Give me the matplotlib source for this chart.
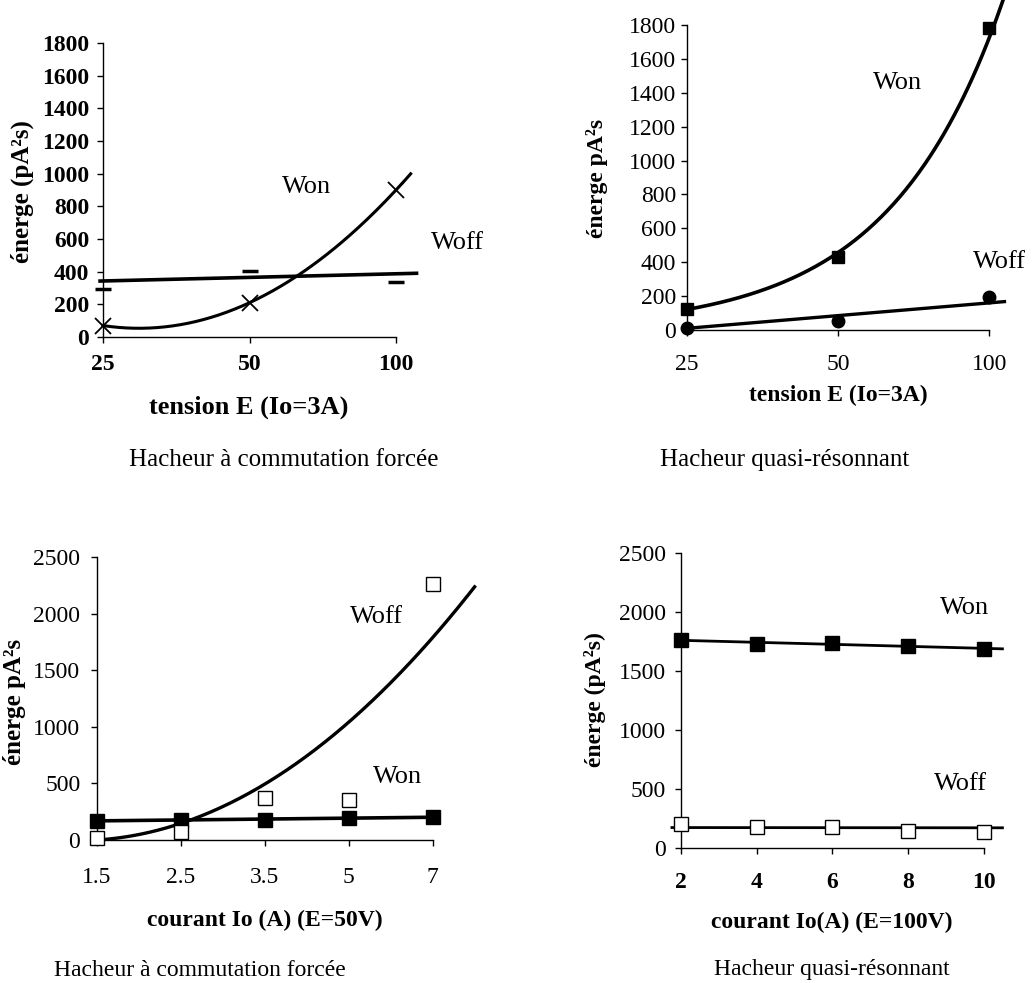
"""
Energies de commutation Won / Woff : hacheur a commutation forcee vs quasi-resonnant
"""

import numpy as np
import matplotlib
matplotlib.use('Agg')
from matplotlib import pyplot as plt

W, H = 1036, 983

# --- donnees ---
# haut gauche : commutation forcee, E variable (Io=3A)
tension_labels = ['25', '50', '100']
tl_won = [70, 210, 900]
tl_woff = [296, 404, 337]
tl_woff_trend = [343, 365, 387]

# haut droite : quasi-resonnant, E variable (Io=3A)
tr_won = [125, 430, 1780]
tr_woff = [10, 55, 195]
tr_woff_trend = [10, 85, 160]

# bas gauche : commutation forcee, Io variable (E=50V)
courant_labels_cf = ['1.5', '2.5', '3.5', '5', '7']
bl_won = [170, 180, 180, 190, 205]
bl_woff = [15, 75, 375, 350, 2260]
bl_woff_trend = [0, 147, 494, 1041, 1788]

# bas droite : quasi-resonnant, Io variable (E=100V)
courant_labels_qr = ['2', '4', '6', '8', '10']
br_won = [1765, 1730, 1735, 1710, 1690]
br_woff = [205, 180, 180, 145, 135]
br_woff_trend = [173, 173, 172, 172, 171]

plt.rcParams['font.family'] = ['Liberation Serif', 'DejaVu Serif']
plt.rcParams['mathtext.default'] = 'regular'


def fx(x):
    return x / W


def fy(y):
    return 1 - y / H


def make_axes(fig, left, right, bottom, top):
    ax = fig.add_axes([fx(left), fy(bottom), fx(right) - fx(left), fy(top) - fy(bottom)])
    ax.patch.set_alpha(0)
    ax.spines['top'].set_visible(False)
    ax.spines['right'].set_visible(False)
    for s in ['left', 'bottom']:
        ax.spines[s].set_linewidth(1.0)
    return ax


def style_ticks(ax, labels, ymax, ystep, xbold, ybold, xpad, ypad, size=17):
    n = len(labels)
    ax.set_xticks(range(n))
    ax.set_xticklabels(labels, fontweight='bold' if xbold else 'normal', fontsize=size)
    ax.set_yticks(np.arange(0, ymax + 1, ystep))
    ax.set_yticklabels([str(v) for v in np.arange(0, ymax + 1, ystep)],
                       fontweight='bold' if ybold else 'normal', fontsize=size)
    ax.tick_params(axis='x', direction='out', length=4, width=1, pad=xpad)
    ax.tick_params(axis='y', direction='out', length=4, width=1, pad=ypad)
    ax.spines['bottom'].set_bounds(0, n - 1)
    ax.spines['left'].set_bounds(0, ymax)


def trend(ax, anchors, x0, x1, deg, lw=2.2):
    xs = np.arange(len(anchors))
    coef = np.polyfit(xs, anchors, deg)
    xx = np.linspace(x0, x1, 200)
    ax.plot(xx, np.polyval(coef, xx), color='black', lw=lw, clip_on=False, zorder=2)


fig = plt.figure(figsize=(W / 100, H / 100), dpi=100)
fig.patch.set_facecolor('white')

# ---------------- haut gauche ----------------
ax = make_axes(fig, 103, 418, 337, 43)
ax.set_xlim(0, 2.15)
ax.set_ylim(0, 1800)
style_ticks(ax, tension_labels, 1800, 200, True, True, xpad=8.5, ypad=6)
idx = np.arange(len(tl_won))
trend(ax, tl_won, 0, 2.1, 2, lw=2.2)
trend(ax, tl_woff_trend, -0.02, 2.14, 1, lw=2.6)
ax.plot(idx, tl_won, 'x', color='black', ms=11, mew=1.3, clip_on=False, zorder=3)
ax.plot(idx, tl_woff, '_', color='black', ms=12, mew=2.5, clip_on=False, zorder=3)
ax.text(1.39, 918, 'Won', fontsize=19, ha='center', va='center')
ax.text(2.42, 575, 'Woff', fontsize=19, ha='center', va='center', clip_on=False)
fig.text(fx(249), fy(407), 'tension E (Io=3A)', fontsize=19, fontweight='bold',
         ha='center', va='center')
fig.text(fx(22), fy(192), 'énerge (pA²s)', fontsize=18, fontweight='bold',
         ha='center', va='center', rotation=90)
fig.text(fx(284), fy(460), 'Hacheur à commutation forcée', fontsize=18,
         ha='center', va='center')

# ---------------- haut droite ----------------
ax = make_axes(fig, 687, 1012, 330, 25)
ax.set_xlim(0, 2.15)
ax.set_ylim(0, 1800)
style_ticks(ax, tension_labels, 1800, 200, False, False, xpad=13.5, ypad=4)
idx = np.arange(len(tr_won))
b, a = np.polyfit(idx, np.log(tr_won), 1)
xx = np.linspace(0, 2.09, 200)
ax.plot(xx, np.exp(a + b * xx), color='black', lw=2.6, clip_on=False, zorder=2)
trend(ax, tr_woff_trend, 0, 2.1, 1, lw=2.4)
ax.plot(idx, tr_won, 's', color='black', ms=9, clip_on=False, zorder=3)
ax.plot(idx, tr_woff, 'o', color='black', ms=9, clip_on=False, zorder=3)
ax.text(1.39, 1457, 'Won', fontsize=19, ha='center', va='center')
ax.text(2.07, 401, 'Woff', fontsize=19, ha='center', va='center', clip_on=False)
fig.text(fx(838), fy(395), 'tension E (Io=3A)', fontsize=17, fontweight='bold',
         ha='center', va='center')
fig.text(fx(597), fy(178), 'énerge pA²s', fontsize=17, fontweight='bold',
         ha='center', va='center', rotation=90)
fig.text(fx(785), fy(460), 'Hacheur quasi-résonnant', fontsize=18,
         ha='center', va='center')

# ---------------- bas gauche ----------------
ax = make_axes(fig, 97, 483, 840, 557)
ax.set_xlim(0, 4.6)
ax.set_ylim(0, 2500)
style_ticks(ax, courant_labels_cf, 2500, 500, False, False, xpad=15.5, ypad=8)
idx = np.arange(len(bl_won))
trend(ax, bl_woff_trend, 0, 4.5, 2, lw=2.4)
trend(ax, bl_won, 0, 4.0, 1, lw=2.6)
ax.plot(idx, bl_won, 's', color='black', ms=10, clip_on=False, zorder=3)
ax.plot(idx, bl_woff, 's', color='black', mfc='white', ms=10, mew=1.0,
        clip_on=False, zorder=3)
ax.text(3.33, 1970, 'Woff', fontsize=19, ha='center', va='center')
ax.text(3.58, 557, 'Won', fontsize=19, ha='center', va='center')
fig.text(fx(265), fy(920), 'courant Io (A) (E=50V)', fontsize=17, fontweight='bold',
         ha='center', va='center')
fig.text(fx(15), fy(702), 'énerge pA²s', fontsize=18, fontweight='bold',
         ha='center', va='center', rotation=90)
fig.text(fx(200), fy(970), 'Hacheur à commutation forcée', fontsize=17,
         ha='center', va='center')

# ---------------- bas droite ----------------
ax = make_axes(fig, 681, 1010, 848, 553)
ax.set_xlim(0, 4.35)
ax.set_ylim(0, 2500)
style_ticks(ax, courant_labels_qr, 2500, 500, True, False, xpad=13.5, ypad=7)
idx = np.arange(len(br_won))
trend(ax, br_won, 0, 4.25, 1, lw=2.0)
trend(ax, br_woff_trend, -0.12, 4.25, 1, lw=2.0)
ax.plot(idx, br_won, 's', color='black', ms=10, clip_on=False, zorder=3)
ax.plot(idx, br_woff, 's', color='black', mfc='white', ms=10, mew=1.0,
        clip_on=False, zorder=3)
ax.text(3.75, 2034, 'Won', fontsize=19, ha='center', va='center')
ax.text(3.69, 542, 'Woff', fontsize=19, ha='center', va='center')
fig.text(fx(832), fy(922), 'courant Io(A) (E=100V)', fontsize=17, fontweight='bold',
         ha='center', va='center')
fig.text(fx(595), fy(700), 'énerge (pA²s)', fontsize=17, fontweight='bold',
         ha='center', va='center', rotation=90)
fig.text(fx(832), fy(970), 'Hacheur quasi-résonnant', fontsize=17,
         ha='center', va='center')

fig.savefig('out.png', dpi=100)
